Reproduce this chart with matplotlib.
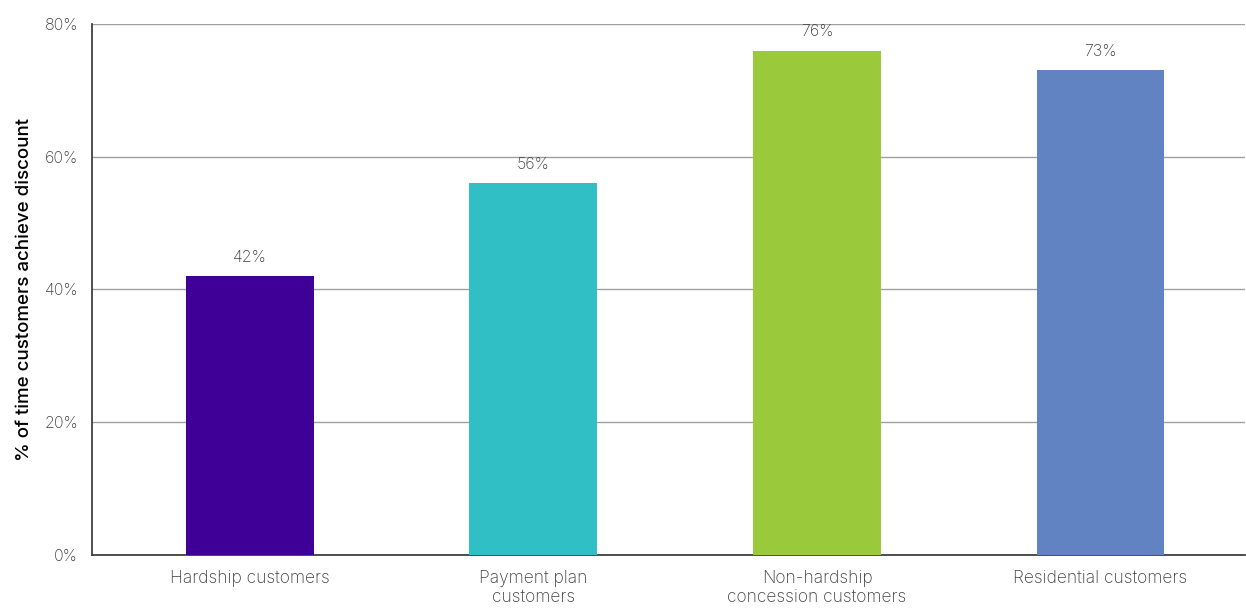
import numpy as np
import matplotlib.pyplot as plt

# --- DATI ---
categories = ['Hardship customers', 'Payment plan\ncustomers',
              'Non-hardship\nconcession customers', 'Residential customers']
values = [42, 56, 76, 73]
bar_colors = ['#3f0097', '#31bfc6', '#9bc93c', '#6283c2']
y_ticks = [0, 20, 40, 60, 80]

plt.rcParams['font.family'] = ['Inter', 'DejaVu Sans']

fig = plt.figure(figsize=(12.46, 6.08), dpi=100)
ax = fig.add_axes([0.0738, 0.0872, 0.9255, 0.8733])

x = np.arange(len(categories))
bars = ax.bar(x, values, width=0.451, color=bar_colors, zorder=3)

# etichette sopra le barre
for xi, v in zip(x, values):
    ax.annotate(f'{v}%', (xi, v), xytext=(0, 8), textcoords='offset points',
                ha='center', va='bottom', fontsize=11.5, color='#404040',
                fontweight='light')

ax.set_xlim(-0.557, 3.51)
ax.set_ylim(0, 80)
ax.set_yticks(y_ticks)
ax.set_yticklabels([f'{t}%' for t in y_ticks], fontsize=11.5, color='#404040',
                   fontweight='light')
ax.set_xticks(x)
ax.set_xticklabels(categories, fontsize=12.5, color='#404040', linespacing=1.15,
                   fontweight='light')
ax.tick_params(axis='both', length=0, pad=10)
ax.tick_params(axis='x', pad=11)

ax.grid(axis='y', color='#a0a0a0', linewidth=1, zorder=0)
for side in ['top', 'right']:
    ax.spines[side].set_visible(False)
ax.spines['left'].set_color('#404040')
ax.spines['bottom'].set_color('#404040')
ax.spines['left'].set_linewidth(1.3)
ax.spines['bottom'].set_linewidth(1.3)

ax.set_ylabel('% of time customers achieve discount', fontsize=13.5,
              fontweight='medium', color='black', labelpad=8)

fig.savefig('out.png', dpi=100)
